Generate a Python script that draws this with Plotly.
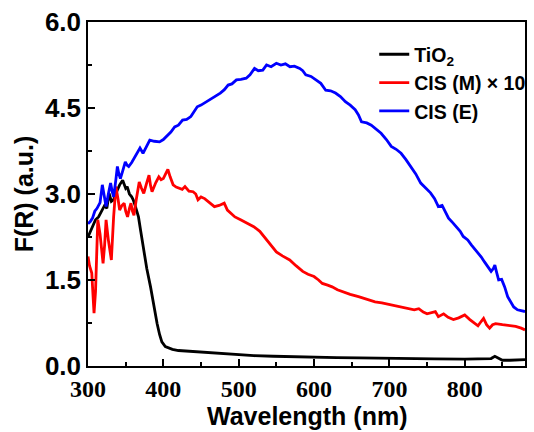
import plotly.graph_objects as go

# ---- data ----
tio2_wl = [300, 303, 307, 310, 314, 318, 322, 325, 328, 331, 334, 337, 340, 342, 346, 350, 352, 355, 358, 360, 363,
           367, 370, 374, 378, 383, 387, 391.7, 395, 398, 402.6, 407, 412, 420, 430, 440, 463, 480, 500, 520, 546,
           570, 600, 630, 660, 700, 730, 760, 800, 820, 835, 840, 845, 850, 860, 870, 880]
tio2_val = [2.25, 2.35, 2.46, 2.55, 2.6, 2.7, 2.8, 2.75, 3.01, 2.87, 2.9, 3.01, 3.1, 3.16, 3.24, 3.1, 3.13, 3.0, 2.95,
            2.9, 2.78, 2.6, 2.35, 2.02, 1.7, 1.38, 1.05, 0.74, 0.55, 0.42, 0.34, 0.31, 0.29, 0.27, 0.26, 0.25, 0.23,
            0.21, 0.2, 0.18, 0.17, 0.16, 0.15, 0.145, 0.14, 0.13, 0.13, 0.125, 0.12, 0.125, 0.13, 0.17, 0.13, 0.1,
            0.1, 0.1, 0.11]

cism_wl = [300, 302, 305, 307, 308, 310, 313, 316, 320, 322, 324, 327, 331, 334, 337, 340, 342, 345, 348, 350, 352.5,
           355, 357, 359, 361, 364, 368, 371, 374, 378, 381, 383, 385, 390, 394, 397, 400, 403, 406, 409, 413, 417,
           420, 425, 428.7, 434, 439.5, 443, 446, 450, 454.8, 461, 467.8, 474, 480.8, 485, 489.5, 495, 502.5, 507,
           514, 520, 528, 537, 543, 550, 558, 567.7, 576, 585, 592, 600, 606, 611, 618, 624, 631, 637, 648, 659, 670,
           681, 690, 698, 707, 715.5, 726, 733, 739, 745, 750, 755, 761, 765, 772, 778, 785, 792, 800, 806.8, 812,
           817.6, 822, 825, 829, 833, 837, 841, 850, 859, 867.6, 875, 880]
cism_val = [1.91, 1.75, 1.62, 1.2, 0.92, 1.3, 2.55, 2.3, 1.79, 2.1, 2.55, 2.2, 1.85, 2.6, 3.13, 2.9, 2.72, 2.8, 2.84,
            2.7, 2.60, 2.75, 2.84, 2.7, 2.63, 2.9, 3.21, 3.1, 3.01, 3.2, 3.33, 3.15, 3.04, 3.2, 3.30, 3.25, 3.27, 3.35,
            3.43, 3.3, 3.16, 3.12, 3.10, 3.08, 3.13, 3.05, 3.04, 3.0, 2.90, 2.95, 2.92, 2.85, 2.78, 2.8, 2.84, 2.72,
            2.66, 2.6, 2.55, 2.52, 2.48, 2.43, 2.35, 2.20, 2.12, 1.99, 1.92, 1.85, 1.75, 1.65, 1.6, 1.56, 1.5, 1.44,
            1.41, 1.38, 1.33, 1.30, 1.25, 1.21, 1.16, 1.12, 1.10, 1.08, 1.05, 1.03, 1.01, 0.98, 1.0, 0.94, 0.91, 0.93,
            0.95, 0.86, 0.91, 0.85, 0.81, 0.84, 0.89, 0.81, 0.76, 0.70, 0.78, 0.83, 0.72, 0.66, 0.72, 0.74, 0.72,
            0.71, 0.69, 0.66, 0.63]

cise_wl = [300, 303, 306, 309, 312, 316, 319, 322, 324, 327, 330, 332, 334, 337, 339, 341, 343, 346, 349.5, 352, 354,
           358, 362.6, 366, 369, 373, 377, 382, 388, 395, 400, 404, 410, 415, 420, 425.5, 431, 436.5, 441, 445, 450,
           456, 462.5, 469, 475.6, 481, 486, 491, 497, 503, 510, 515, 521, 526, 532, 537, 543, 550, 556, 562, 568,
           574, 581, 585, 589, 596, 602.5, 609, 615.5, 622, 628.5, 635, 641.6, 648, 654.6, 659, 663, 670, 676, 683,
           689, 696, 702.5, 709, 715.5, 722, 728.5, 735, 741.6, 748, 754.6, 760, 765, 770, 774, 778.5, 784, 789, 794,
           798, 804, 809, 813, 817.6, 822, 826, 830, 835, 838, 840, 842, 845, 849, 853, 857, 861, 865, 870, 875, 880]
cise_val = [2.48, 2.52, 2.58, 2.7, 2.75, 2.85, 3.16, 2.9, 2.78, 3.0, 3.19, 3.05, 2.95, 3.25, 3.48, 3.35, 3.27, 3.4,
            3.56, 3.5, 3.48, 3.55, 3.65, 3.72, 3.80, 3.71, 3.82, 3.94, 3.92, 3.91, 3.95, 4.0, 4.08, 4.17, 4.2, 4.29,
            4.3, 4.35, 4.45, 4.52, 4.55, 4.6, 4.64, 4.7, 4.76, 4.82, 4.90, 4.92, 4.99, 5.0, 5.02, 5.08, 5.19, 5.15,
            5.16, 5.25, 5.22, 5.28, 5.25, 5.27, 5.22, 5.23, 5.19, 5.15, 5.08, 5.05, 4.99, 4.93, 4.81, 4.8, 4.76, 4.7,
            4.61, 4.55, 4.47, 4.38, 4.26, 4.24, 4.20, 4.12, 4.06, 3.95, 3.83, 3.78, 3.71, 3.6, 3.48, 3.35, 3.19, 3.1,
            3.02, 2.92, 2.78, 2.8, 2.7, 2.58, 2.5, 2.43, 2.35, 2.26, 2.2, 2.11, 2.05, 1.97, 1.9, 1.82, 1.75, 1.65,
            1.7, 1.76, 1.65, 1.50, 1.51, 1.38, 1.21, 1.12, 1.03, 0.98, 0.96, 0.95]

series_names = ["TiO<sub>2</sub>", "CIS (M) × 10", "CIS (E)"]
x_ticks = [300, 400, 500, 600, 700, 800]
y_ticks = [0.0, 1.5, 3.0, 4.5, 6.0]
y_ticklabels = ["0.0", "1.5", "3.0", "4.5", "6.0"]
x_title = "Wavelength (nm)"
y_title = "F(R) (a.u.)"

fig = go.Figure()
for wl, val, name, color in [(tio2_wl, tio2_val, series_names[0], "#000000"),
                             (cism_wl, cism_val, series_names[1], "#FF0000"),
                             (cise_wl, cise_val, series_names[2], "#0000FF")]:
    fig.add_trace(go.Scatter(x=wl, y=val, mode="lines", name=name,
                             line=dict(color=color, width=2.8)))

sans = "Liberation Sans, Arial, sans-serif"
serif = "Liberation Serif, Times New Roman, serif"

fig.update_layout(
    width=534, height=432,
    margin=dict(l=88, r=3, t=22, b=66),
    plot_bgcolor="white", paper_bgcolor="white",
    showlegend=True,
    legend=dict(x=0.655, y=0.962, xanchor="left", yanchor="top",
                font=dict(family=sans, size=19.5, color="black", weight="bold"),
                bgcolor="rgba(0,0,0,0)", itemwidth=30, tracegroupgap=0),
    xaxis=dict(range=[300, 880], tickvals=x_ticks, ticks="inside", ticklen=7, tickwidth=1.5,
               tickcolor="black", showline=True, linecolor="black", linewidth=1.5, mirror=True,
               showgrid=False, zeroline=False, automargin=False,
               minor=dict(tickvals=[350, 450, 550, 650, 750, 850], ticks="inside", ticklen=4,
                          tickwidth=1.5, tickcolor="black"),
               tickfont=dict(family=serif, size=24, color="black", weight="bold")),
    yaxis=dict(range=[0, 6], tickvals=y_ticks, ticktext=y_ticklabels, ticks="inside", ticklen=7,
               tickwidth=1.5, tickcolor="black", showline=True, linecolor="black", linewidth=1.5,
               mirror=True, showgrid=False, zeroline=False, automargin=False,
               minor=dict(tickvals=[0.75, 2.25, 3.75, 5.25], ticks="inside", ticklen=4,
                          tickwidth=1.5, tickcolor="black"),
               tickfont=dict(family=sans, size=26, color="black", weight="bold"),
               title=dict(text=y_title, standoff=4,
                          font=dict(family=sans, size=25, color="black", weight="bold"))),
    annotations=[dict(text=x_title, xref="paper", yref="paper", x=0.5, y=-0.145,
                      xanchor="center", yanchor="middle", showarrow=False,
                      font=dict(family=sans, size=25, color="black", weight="bold"))],
)

fig.write_html("out.html", config={"displayModeBar": False},
               post_script="document.body.style.margin='0';document.body.style.overflow='hidden';")
